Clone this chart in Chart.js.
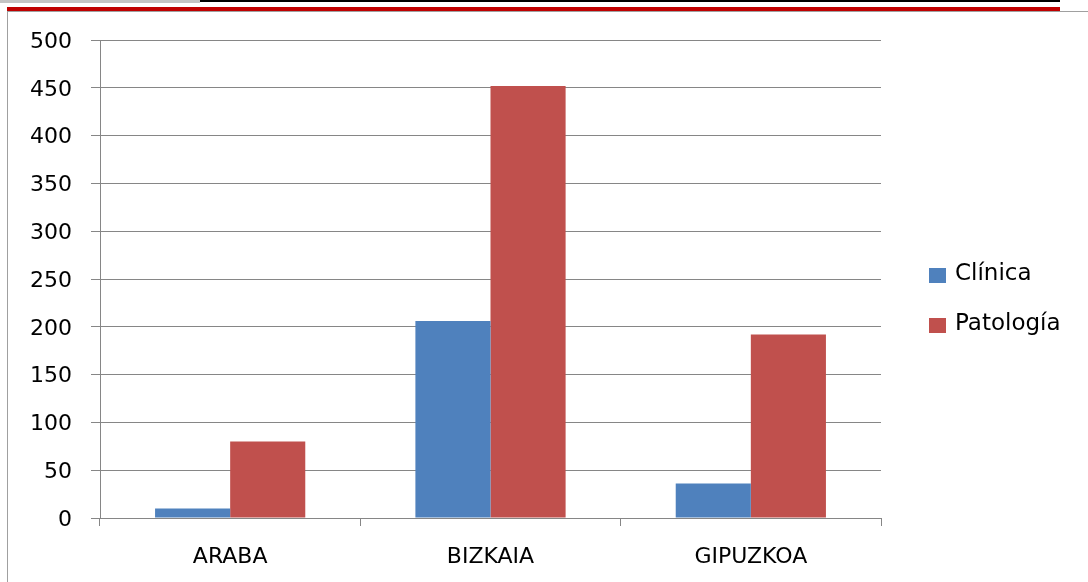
<!DOCTYPE html>
<html>
<head>
<meta charset="utf-8">
<script src="https://cdn.jsdelivr.net/npm/chart.js@4"></script>
<style>
  html, body { margin:0; padding:0; background:#fff; }
  #wrap { position:relative; width:1088px; height:582px; overflow:hidden; font-family:"DejaVu Sans", sans-serif; }
  canvas { position:absolute; left:0; top:0; }
  .deco { position:absolute; }
  .legend { position:absolute; left:929px; font-size:23px; color:#000; }
  .legend .item { position:absolute; white-space:nowrap; height:30px; }
  .legend .sw { position:absolute; left:0; width:17px; height:15px; }
  .legend .tx { position:absolute; left:26px; }
</style>
</head>
<body>
<div id="wrap">
  <canvas id="c" width="1088" height="582"></canvas>
  <div class="deco" style="left:0;top:0;width:200px;height:3px;background:#c4c4c4"></div>
  <div class="deco" style="left:200px;top:0;width:860px;height:2px;background:#000"></div>
  <div class="deco" style="left:7px;top:7px;width:1053px;height:4px;background:#c00000"></div>
  <div class="deco" style="left:7px;top:11px;width:1081px;height:1px;background:#a0a0a0"></div>
  <div class="deco" style="left:7px;top:11px;width:1px;height:571px;background:#a0a0a0"></div>
  <div class="legend" id="legend"></div>
</div>
<script>
const categories = ["ARABA", "BIZKAIA", "GIPUZKOA"];
const seriesNames = ["Clínica", "Patología"];
const clinica = [10, 206, 36];
const patologia = [80, 452, 192];
const yTicks = [0, 50, 100, 150, 200, 250, 300, 350, 400, 450, 500];
const colors = ["#4F81BD", "#C0504D"];

const gridColor = "#868686";

new Chart(document.getElementById("c"), {
  type: "bar",
  data: {
    labels: categories,
    datasets: [
      { label: seriesNames[0], data: clinica, backgroundColor: colors[0], borderWidth: 0,
        categoryPercentage: 0.577, barPercentage: 1.0 },
      { label: seriesNames[1], data: patologia, backgroundColor: colors[1], borderWidth: 0,
        categoryPercentage: 0.577, barPercentage: 1.0 }
    ]
  },
  options: {
    responsive: false,
    animation: false,
    layout: { padding: { left: 0, top: 40, right: 207, bottom: 0 } },
    plugins: { legend: { display: false }, tooltip: { enabled: false } },
    scales: {
      x: {
        grid: { offset: true, drawOnChartArea: false, drawTicks: true, tickLength: 8, color: gridColor },
        border: { color: gridColor },
        ticks: { color: "#000", font: { family: "DejaVu Sans", size: 22 }, padding: 18 },
        afterFit: (s) => { s.height = 64; }
      },
      y: {
        min: 0, max: 500,
        afterBuildTicks: (s) => { s.ticks = yTicks.map(v => ({ value: v })); },
        grid: { color: gridColor, drawTicks: true, tickLength: 9 },
        border: { color: gridColor },
        ticks: { color: "#000", font: { family: "DejaVu Sans", size: 22 }, padding: 19, labelOffset: 2 },
        afterFit: (s) => { s.width = 100; }
      }
    }
  }
});

const legend = document.getElementById("legend");
const legendTops = [259, 309];
seriesNames.forEach((n, i) => {
  const it = document.createElement("div");
  it.className = "item";
  it.style.top = legendTops[i] + "px";
  it.innerHTML = '<span class="sw" style="top:9px;background:' + colors[i] + '"></span><span class="tx">' + n + '</span>';
  legend.appendChild(it);
});
</script>
</body>
</html>
